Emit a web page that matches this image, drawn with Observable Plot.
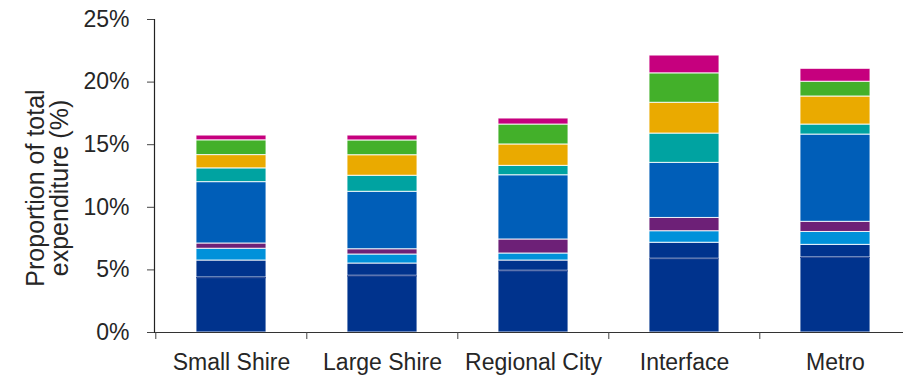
<!DOCTYPE html>
<html>
<head>
<meta charset="utf-8">
<script src="https://cdn.jsdelivr.net/npm/d3@7"></script>
<script src="https://cdn.jsdelivr.net/npm/@observablehq/plot@0.6"></script>
<style>
  html, body { margin: 0; padding: 0; background: #fff; }
  #chart { width: 903px; height: 375px; }
</style>
</head>
<body>
<div id="chart"></div>
<script>
// Categories (council types)
const regions = ["Small Shire", "Large Shire", "Regional City", "Interface", "Metro"];

// Stacked series, bottom to top (% of total expenditure)
const seriesNames = ["Segment 1", "Segment 2", "Segment 3", "Segment 4", "Segment 5", "Segment 6", "Segment 7", "Segment 8", "Segment 9"];
const segment1 = [4.39, 4.53, 4.93, 5.89, 5.99];
const segment2 = [1.36, 0.98, 0.82, 1.28, 1.01];
const segment3 = [0.94, 0.72, 0.56, 0.92, 1.03];
const segment4 = [0.42, 0.42, 1.12, 1.06, 0.81];
const segment5 = [4.90, 4.59, 5.13, 4.40, 6.97];
const segment6 = [1.10, 1.28, 0.75, 2.34, 0.80];
const segment7 = [1.06, 1.64, 1.71, 2.46, 2.24];
const segment8 = [1.18, 1.18, 1.59, 2.35, 1.18];
const segment9 = [0.38, 0.39, 0.48, 1.42, 1.03];

const seriesValues = [segment1, segment2, segment3, segment4, segment5, segment6, segment7, segment8, segment9];
const seriesColors = ["#00338D", "#00338D", "#0091DA", "#6D2077", "#005EB8", "#00A3A1", "#EAAA00", "#43B02A", "#C6007E"];

// Y axis ticks
const yTicks = [0, 5, 10, 15, 20, 25];
const yLabel = "Proportion of total\nexpenditure (%)";

const data = [];
seriesNames.forEach((s, i) => {
  regions.forEach((r, j) => data.push({series: s, region: r, value: seriesValues[i][j]}));
});
const firstSeriesRows = data.filter(d => d.series === seriesNames[0]);

const W = 903, H = 375;
const mLeft = 154, mTop = 19, mBottom = 43;
const xRange = [154, 911];
const step = (xRange[1] - xRange[0]) / regions.length;
const font = "'Liberation Sans', Arial, Helvetica, sans-serif";
const textColor = "#262626";

const chart = Plot.plot({
  width: W,
  height: H,
  marginLeft: mLeft,
  marginRight: 0,
  marginTop: mTop,
  marginBottom: mBottom,
  style: {fontFamily: font, fontSize: "23px", color: textColor, background: "#fff"},
  x: {domain: regions, range: xRange, paddingInner: 0.538, paddingOuter: 0.27, axis: null},
  y: {domain: [0, 25], axis: null},
  color: {domain: seriesNames, range: seriesColors},
  marks: [
    Plot.barY(data, {
      x: "region", y: "value", fill: "series", order: seriesNames,
      stroke: "#fff", strokeWidth: 1, strokeOpacity: 0.85
    }),
    Plot.tickY(firstSeriesRows, {x: "region", y: "value", stroke: "#33519a", strokeWidth: 1.2}),
    Plot.ruleY([0], {stroke: "#333", strokeWidth: 1.2}),
    Plot.frame({anchor: "left", stroke: "#222", strokeWidth: 1.2}),
    Plot.axisY({
      ticks: yTicks, tickSize: 7, tickPadding: 18,
      tickFormat: d => d + "%", fontSize: 23, fill: textColor, stroke: "#444", label: null
    }),
    Plot.axisX({
      tickSize: 0, tickPadding: 21, fontSize: 23, fill: textColor, label: null
    }),
    Plot.axisX({
      tickSize: 7, dx: -step / 2, tickFormat: () => "", stroke: "#444", label: null
    }),
    Plot.text([yLabel], {
      text: d => d, frameAnchor: "left", textAnchor: "middle", lineAnchor: "middle",
      rotate: -90, dx: -106, dy: 12,
      fontSize: 25, lineHeight: 0.97, fill: textColor
    })
  ]
});

document.getElementById("chart").appendChild(chart);
</script>
</body>
</html>
